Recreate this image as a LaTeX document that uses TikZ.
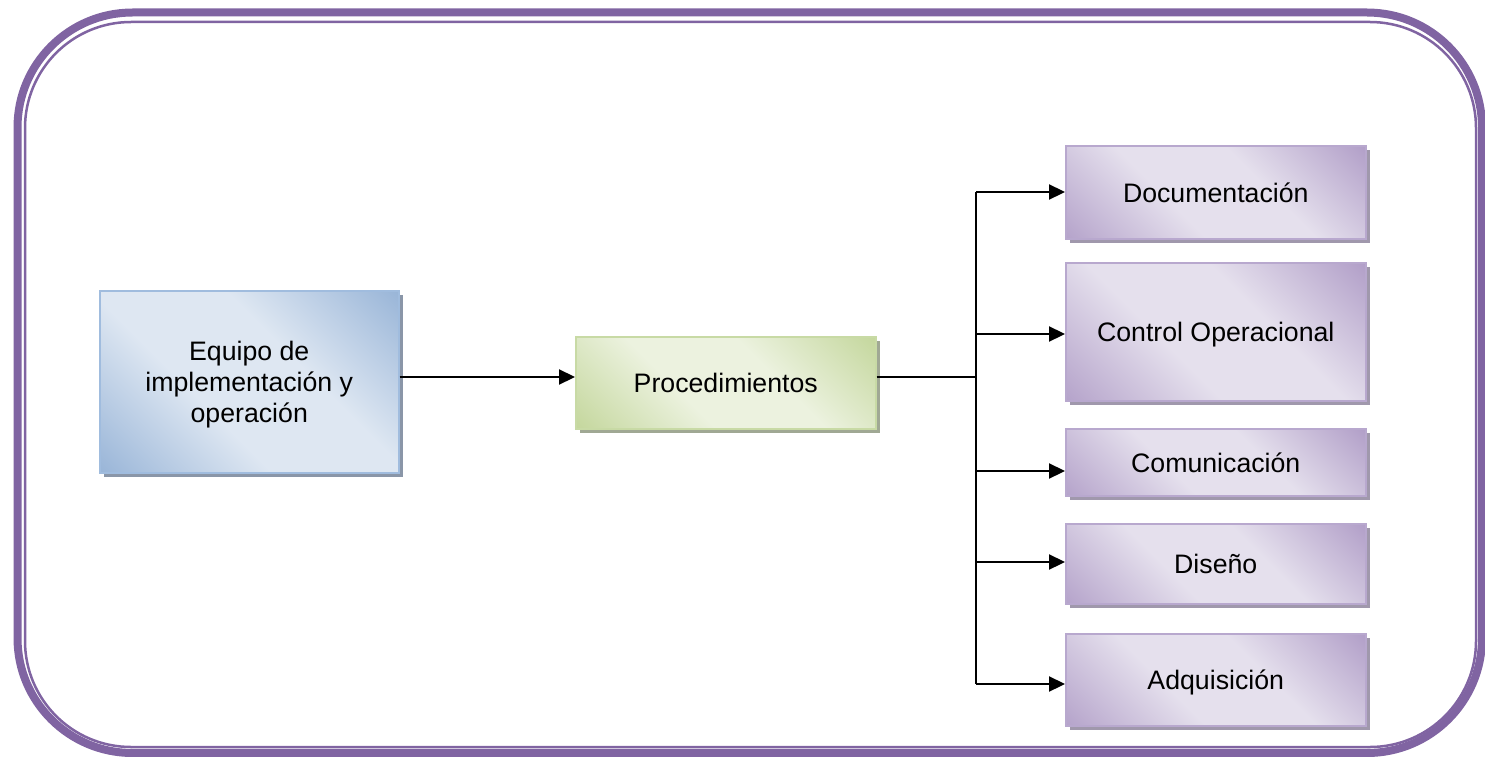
\documentclass[tikz,border=0pt]{standalone}
\usepackage{fontspec}
\setmainfont{Liberation Sans}
\usetikzlibrary{arrows.meta,shadows}
\definecolor{framecol}{RGB}{128,100,162}
\definecolor{bdark}{RGB}{146,176,213}
\definecolor{blight}{RGB}{222,231,242}
\definecolor{bborder}{RGB}{160,188,222}
\definecolor{bshadow}{RGB}{138,150,168}
\definecolor{gdark}{RGB}{192,212,150}
\definecolor{glight}{RGB}{236,242,223}
\definecolor{gborder}{RGB}{200,218,165}
\definecolor{gshadow}{RGB}{160,168,148}
\definecolor{pdark}{RGB}{176,157,199}
\definecolor{plight}{RGB}{229,224,237}
\definecolor{pborder}{RGB}{184,168,206}
\definecolor{pshadow}{RGB}{160,152,172}
\pgfdeclarehorizontalshading{bluediag}{100bp}{color(0bp)=(bdark); color(12bp)=(bdark); color(40bp)=(blight); color(60bp)=(blight); color(88bp)=(bdark); color(100bp)=(bdark)}
\pgfdeclarehorizontalshading{greendiag}{100bp}{color(0bp)=(gdark); color(12bp)=(gdark); color(40bp)=(glight); color(60bp)=(glight); color(88bp)=(gdark); color(100bp)=(gdark)}
\pgfdeclarehorizontalshading{purplediag}{100bp}{color(0bp)=(pdark); color(12bp)=(pdark); color(40bp)=(plight); color(60bp)=(plight); color(86bp)=(pdark); color(100bp)=(pdark)}
\tikzset{
  boxbase/.style={anchor=north west, inner sep=0pt, align=center, line width=1.5pt,
    text depth=0pt, font=\fontsize{26.7}{31}\selectfont},
  bluebox/.style={boxbase, shading=bluediag, shading angle=45, draw=bborder,
    drop shadow={shadow xshift=4pt, shadow yshift=-4pt, fill=bshadow, opacity=1}},
  greenbox/.style={boxbase, shading=greendiag, shading angle=45, draw=gborder,
    drop shadow={shadow xshift=4pt, shadow yshift=-4pt, fill=gshadow, opacity=1}},
  purplebox/.style={boxbase, shading=purplediag, shading angle=45, draw=pborder,
    minimum width=300pt,
    drop shadow={shadow xshift=4pt, shadow yshift=-4pt, fill=pshadow, opacity=1}},
  arr/.style={line width=2.2pt, -{Triangle[length=16pt,width=15pt]}},
  link/.style={line width=1.6pt}
}
\begin{document}
\begin{tikzpicture}[x=1pt,y=-1pt]
\useasboundingbox (0,0) rectangle (1485,757);
% frame
\draw[framecol, line width=8pt, rounded corners=115pt] (17.5,12.5) rectangle (1482,753);
\draw[framecol, line width=2.5pt, rounded corners=106pt] (25,22) rectangle (1476,747);
% boxes
\node[bluebox, minimum width=299pt, minimum height=182pt] (eq) at (99,290)
  {Equipo de\\implementación y\\operación};
\node[greenbox, minimum width=300pt, minimum height=92pt] (proc) at (575,336) {Procedimientos};
\node[purplebox, minimum height=93pt] (doc) at (1065,145) {Documentación};
\node[purplebox, minimum height=138pt] (ctl) at (1065,262) {Control Operacional};
\node[purplebox, minimum height=67pt] (com) at (1065,428) {Comunicación};
\node[purplebox, minimum height=80pt] (dis) at (1065,523) {Diseño};
\node[purplebox, minimum height=92pt] (adq) at (1065,633) {Adquisición};
% junction coordinates
\coordinate (j) at (976,377);
\coordinate (b1) at (976,192);
\coordinate (b2) at (976,334);
\coordinate (b3) at (976,471);
\coordinate (b4) at (976,562);
\coordinate (b5) at (976,684);
% connectors
\draw[arr] (j -| eq.east) -- (j -| proc.west);
\draw[link] (j -| proc.east) -- (j);
\draw[line width=2pt] (b1) -- (b5);
\draw[arr] (b1) -- (b1 -| doc.west);
\draw[arr] (b2) -- (b2 -| ctl.west);
\draw[arr] (b3) -- (b3 -| com.west);
\draw[arr] (b4) -- (b4 -| dis.west);
\draw[arr] (b5) -- (b5 -| adq.west);
\end{tikzpicture}
\end{document}
